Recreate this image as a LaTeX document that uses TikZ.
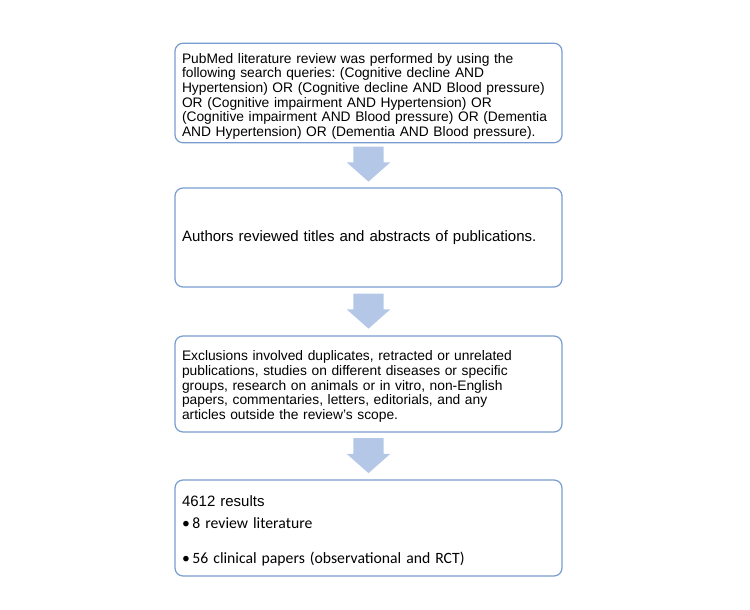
\documentclass[tikz,border=0pt]{standalone}
\usepackage{fontspec}
\usepackage{tikz}
\usetikzlibrary{shapes.arrows, calc}
\setmainfont{Liberation Sans}
\newfontfamily\bulletfont{Carlito}
\definecolor{boxblue}{RGB}{120,156,208}
\definecolor{arrowblue}{RGB}{180,199,231}
\frenchspacing

\begin{document}
\begin{tikzpicture}[x=1pt, y=1pt]
    \tikzstyle{stepbox} = [rectangle, rounded corners=8pt, draw=boxblue, line width=1.2pt, minimum width=387pt, minimum height=96pt, inner xsep=7pt, text width=373pt, align=left, font=\fontsize{13.8}{14.7}\selectfont]
    \tikzstyle{blockarrow} = [single arrow, fill=arrowblue, draw=none, inner xsep=0pt, inner ysep=15pt, minimum height=35pt, single arrow head extend=6.5pt, single arrow tip angle=97, rotate=-90, anchor=tip]
    \useasboundingbox (0,0) rectangle (750,-610);
    \node (search) [stepbox] at (368.5,-93) {\rule{0pt}{16.5pt}PubMed literature review was performed by using the\\
        following search queries: (Cognitive decline AND\\
        Hypertension) OR (Cognitive decline AND Blood pressure)\\
        OR (Cognitive impairment AND Hypertension) OR\\
        (Cognitive impairment AND Blood pressure) OR (Dementia\\
        AND Hypertension) OR (Dementia AND Blood pressure).};
    \node (screen) [stepbox, minimum height=99pt, font=\fontsize{15}{16}\selectfont] at (368.5,-237.5) {Authors reviewed titles and abstracts of publications.};
    \node (exclude) [stepbox] at (368.5,-384) {\rule{0pt}{15pt}Exclusions involved duplicates, retracted or unrelated\\
        publications, studies on different diseases or specific\\
        groups, research on animals or in vitro, non-English\\
        papers, commentaries, letters, editorials, and any\\
        articles outside the review's scope.};
    \node (results) [stepbox, font=\fontsize{15}{16}\selectfont] at (368.5,-528) {\rule{0pt}{17pt}4612 results\\[6pt]
        {\bulletfont\fontsize{15.7}{16}\selectfont\makebox[10.5pt][l]{•}8 review literature}\\[19pt]
        {\bulletfont\fontsize{15.7}{16}\selectfont\makebox[10.5pt][l]{•}56 clinical papers (observational and RCT)}};
    % arrows between the steps, tip just above the next box
    \node (a1) [blockarrow] at ($(screen.north)+(0,5.5)$) {};
    \node (a2) [blockarrow] at ($(exclude.north)+(0,6.5)$) {};
    \node (a3) [blockarrow] at ($(results.north)+(0,6)$) {};
\end{tikzpicture}
\end{document}
